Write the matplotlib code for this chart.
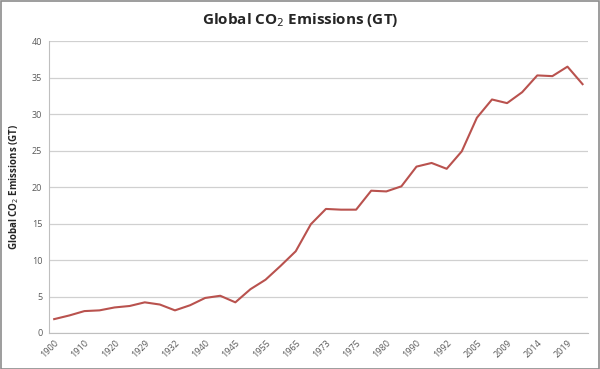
import matplotlib
matplotlib.use('Agg')
import matplotlib.pyplot as plt
from matplotlib.patches import Rectangle

# yearly points (every other one is labelled on the axis)
tick_labels = ['1900', '1910', '1920', '1929', '1932', '1940', '1945', '1955', '1965',
               '1973', '1975', '1980', '1990', '1992', '2005', '2009', '2014', '2019']
emissions = [1.9, 2.4, 3.0, 3.1, 3.5, 3.7, 4.2, 3.9, 3.1, 3.8,
             4.8, 5.1, 4.2, 6.0, 7.3, 9.2, 11.2, 14.9, 17.0, 16.9,
             16.9, 19.5, 19.4, 20.1, 22.8, 23.3, 22.5, 24.9, 29.5, 32.0,
             31.5, 33.0, 35.3, 35.2, 36.5, 34.1]

plt.rcParams['font.family'] = ['Open Sans', 'DejaVu Sans']

fig = plt.figure(figsize=(6, 3.69), dpi=100)
ax = fig.add_axes([0.082, 0.0976, 0.898, 0.791])

x = list(range(len(emissions)))
ax.plot(x, emissions, color='#b9524e', linewidth=1.5, solid_joinstyle='round')

ax.set_xlim(-0.33, len(emissions) - 1 + 0.36)
ax.set_ylim(0, 40)
ax.set_yticks(range(0, 41, 5))
ax.set_xticks(x[::2])
ax.set_xticklabels(tick_labels, rotation=45, ha='right', va='top',
                   rotation_mode='anchor', fontsize=6.5, color='#595959')
ax.tick_params(axis='y', labelsize=6.5, labelcolor='#595959', length=0, pad=5)
ax.tick_params(axis='x', length=0, pad=4)

ax.grid(axis='y', color='#d0d0d0', linewidth=0.9)
ax.set_axisbelow(True)
for s in ['top', 'right']:
    ax.spines[s].set_visible(False)
ax.spines['left'].set_color('#bfbfbf')
ax.spines['bottom'].set_color('#bfbfbf')

ax.set_ylabel('Global CO$_2$ Emissions (GT)', fontsize=7, fontweight='bold',
              color='#262626', labelpad=8)
fig.text(0.5, 0.945, 'Global CO$_2$ Emissions (GT)', ha='center', va='center',
         fontsize=11, fontweight='bold', color='#262626')

fig.patches.append(Rectangle((0.001, 0.001), 0.998, 0.997, transform=fig.transFigure,
                             fill=False, edgecolor='#8c8c8c', linewidth=1.2))

fig.savefig('out.png', dpi=100)
